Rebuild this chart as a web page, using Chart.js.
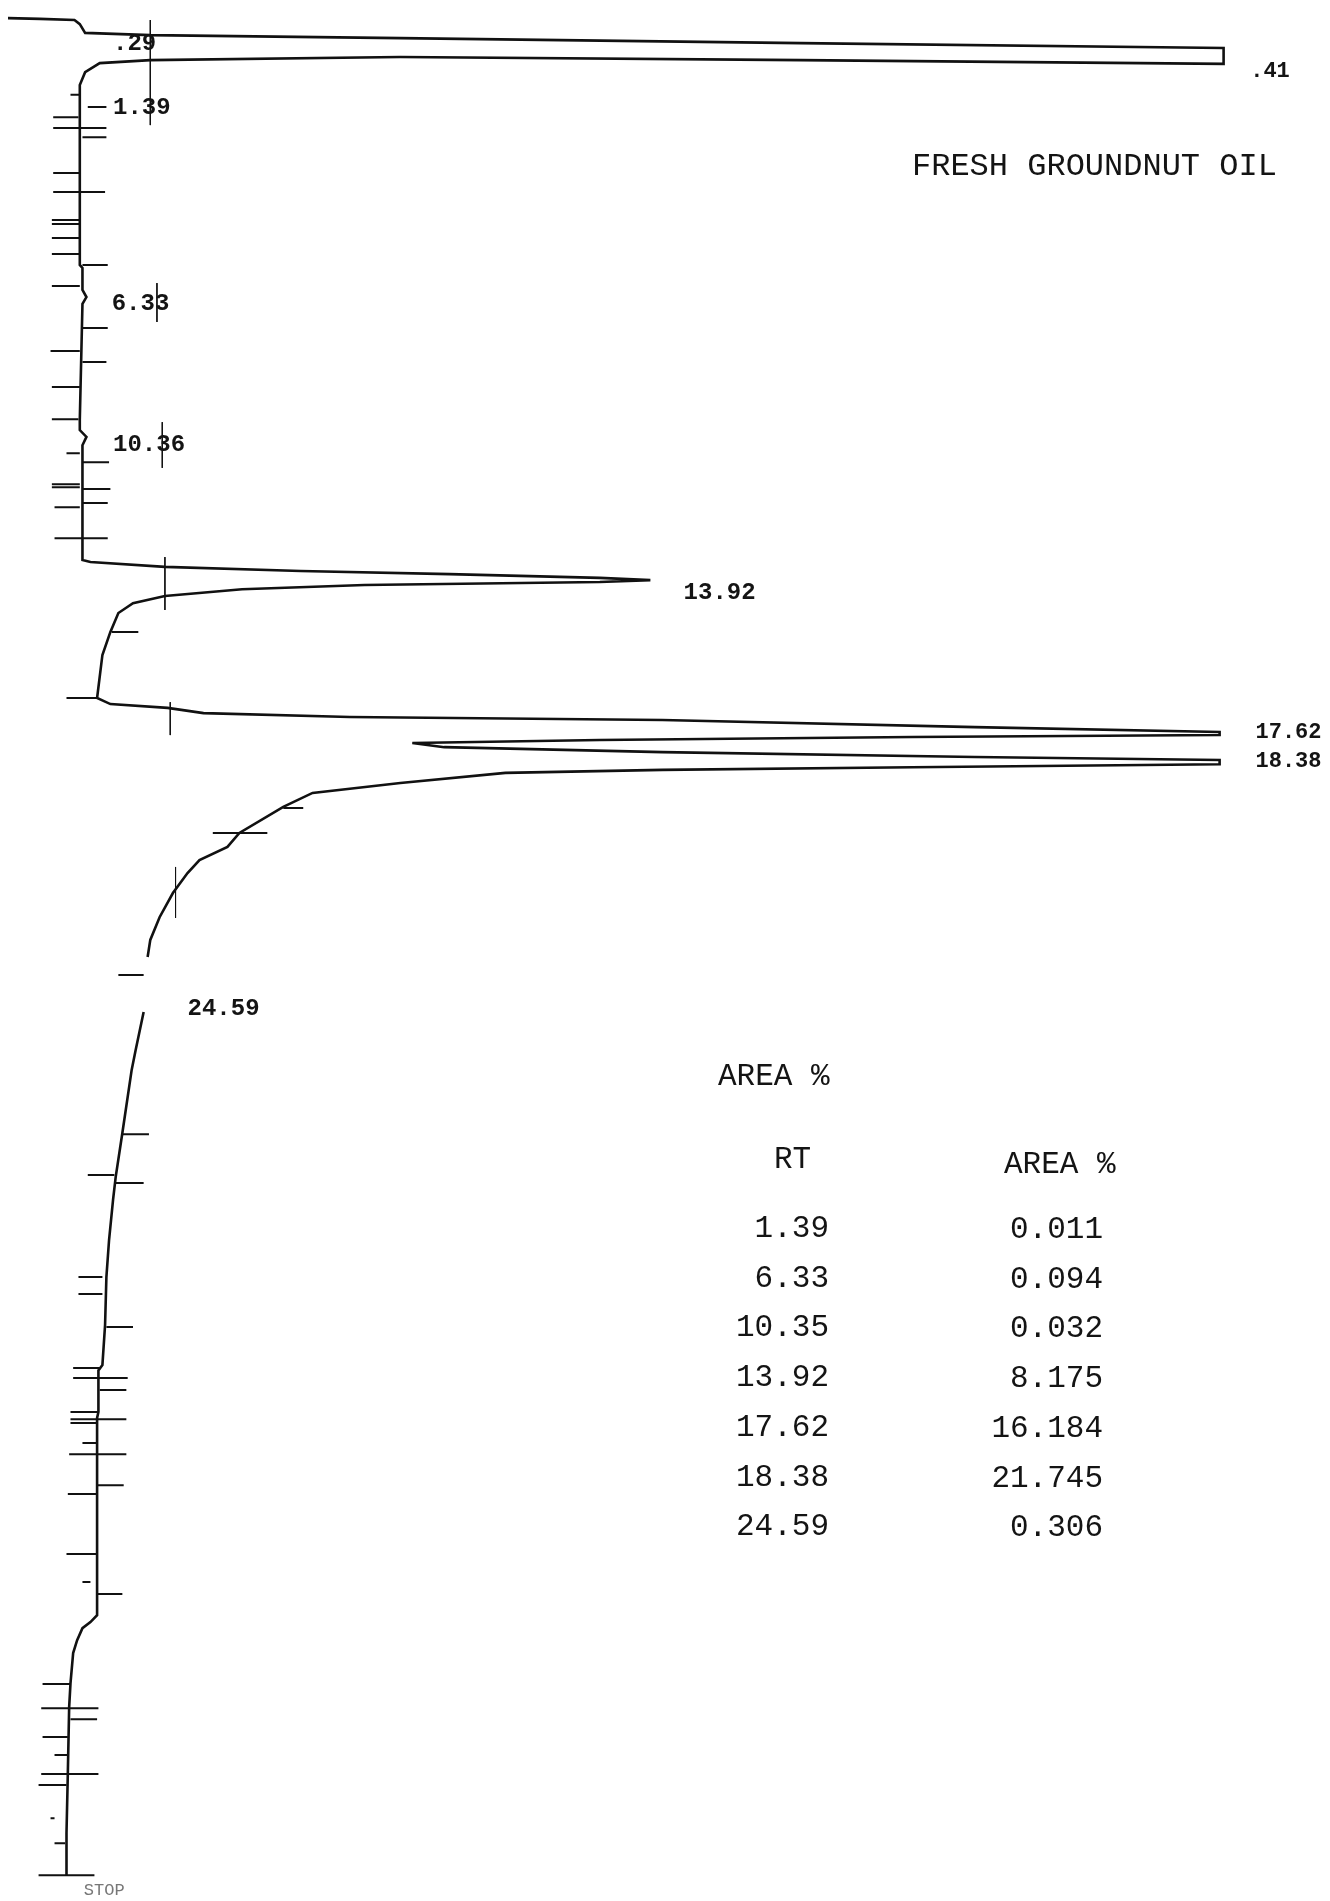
<!DOCTYPE html>
<html>
<head>
<meta charset="utf-8">
<script src="https://cdn.jsdelivr.net/npm/chart.js@4.4.1/dist/chart.umd.min.js"></script>
<style>
  html, body { margin: 0; padding: 0; background: #fff; }
  #wrap { position: relative; width: 1330px; height: 1901px; overflow: hidden; }
  #chart { position: absolute; left: 0; top: 0; }
  .txt { position: absolute; font-family: "Liberation Mono", "DejaVu Sans Mono", monospace; color: #141414; line-height: 1; white-space: pre; }
  .peak { font-size: 24px; font-weight: bold; }
  .title { font-size: 32px; left: 912px; top: 151px; }
  .tbl { font-size: 31px; }
</style>
</head>
<body>
<div id="wrap">
  <canvas id="chart" width="1330" height="1901"></canvas>
</div>
<script>
// retention time (min, downward) and pen signal (% of chart width)
const traceTime = [-1.02, -1.0, -0.97, -0.86, -0.63, -0.57, -0.49, -0.36, -0.23, 0.19, 0.09, 0.01, 0.09, 0.17, 0.41, 0.75, 1.01,
  5.51, 5.59, 6.17, 6.36, 6.54, 9.61, 9.88, 10.06, 10.28, 13.32,
  13.37, 13.50, 13.61, 13.69, 13.79, 13.85, 13.90, 13.98, 14.09, 14.27, 14.46, 14.72, 15.22, 15.83, 16.97,
  17.13, 17.23, 17.37, 17.47, 17.55, 17.74, 17.87, 17.95, 18.00, 18.08, 18.16,
  18.27, 18.40, 18.53, 18.61, 18.72, 18.80, 18.87, 18.95, 19.22, 19.48, 19.85, 20.54, 20.91, 21.26, 21.60, 22.13, 22.77, 23.37, 23.82];
const traceSignal = [0.6, 3.0, 5.6, 6.0, 6.4, 11.3, 30.1, 60.2, 92.0, 92.0, 60.2, 30.1, 11.3, 7.5, 6.4, 6.0, 6.0,
  6.0, 6.2, 6.2, 6.5, 6.2, 6.0, 6.0, 6.5, 6.2, 6.2,
  6.8, 12.4, 22.6, 33.8, 45.1, 48.9, 45.1, 27.4, 18.2, 12.4, 10.0, 8.9, 8.3, 7.7, 7.3,
  8.3, 12.6, 15.3, 26.3, 49.8, 73.3, 91.7, 91.7, 68.6, 45.1, 31.0,
  33.4, 49.8, 73.3, 91.7, 91.7, 68.6, 49.8, 38.0, 30.1, 23.5, 21.3, 18.0, 17.1, 15.0, 14.1, 13.0, 12.0, 11.3, 11.1];

const tailTime = [25.28, 26.28, 26.81, 28.48, 29.64, 30.25, 31.31, 32.29, 33.56, 34.62, 34.76, 35.86, 36.02, 38.11, 40.68,
  41.24, 41.42, 41.58, 41.90, 42.24, 43.04, 43.67, 45.42, 47.00, 48.12];
const tailSignal = [10.8, 10.2, 9.9, 9.2, 8.7, 8.5, 8.2, 8.0, 7.9, 7.7, 7.4, 7.4, 7.3, 7.3, 7.3,
  7.3, 6.8, 6.2, 5.8, 5.5, 5.3, 5.2, 5.1, 5.0, 5.0];

// integrator event marks
const tickTime = [1.01, 1.33, 1.60, 1.89, 2.13, 3.08, 3.58, 4.32, 4.43, 4.80, 5.22, 5.51, 6.07, 7.18, 7.79, 8.08, 8.74, 9.59,
  10.49, 10.73, 11.31, 11.39, 11.44, 11.81, 11.92, 12.74, 15.22, 16.97, 19.88, 20.54, 24.30, 28.51, 29.59, 29.80,
  32.29, 32.74, 33.61, 34.70, 34.96, 35.28, 35.86, 36.05, 36.15, 36.68, 36.98, 37.80, 38.03, 39.62, 40.36, 40.68,
  43.06, 43.70, 43.99, 44.46, 44.94, 45.44, 45.73, 46.61, 47.27, 48.12];
const tickFrom = [5.3, 6.6, 4.0, 4.0, 6.2, 4.0, 4.0, 3.9, 3.9, 3.9, 3.9, 6.2, 3.9, 6.2, 3.8, 6.2, 3.9, 3.9,
  5.0, 6.2, 3.9, 3.9, 6.2, 6.2, 4.1, 4.1, 8.4, 5.0, 21.3, 16.0, 8.9, 9.2, 6.6, 8.6,
  5.9, 5.9, 8.0, 5.5, 5.5, 7.5, 5.3, 5.3, 5.3, 6.2, 5.2, 7.3, 5.1, 5.0, 6.2, 7.3,
  3.2, 3.1, 5.3, 3.2, 4.1, 3.1, 2.9, 3.8, 4.1, 2.9];
const tickTo = [6.0, 8.0, 5.9, 8.0, 8.0, 6.0, 7.9, 6.0, 6.0, 6.0, 6.0, 8.1, 6.0, 8.1, 6.0, 8.0, 6.0, 5.9,
  6.0, 8.2, 6.0, 6.0, 8.3, 8.1, 6.0, 8.1, 10.4, 7.3, 22.8, 20.1, 10.8, 11.2, 8.6, 10.8,
  7.7, 7.7, 10.0, 7.5, 9.6, 9.5, 7.4, 9.5, 7.3, 7.3, 9.5, 9.3, 7.3, 7.3, 6.8, 9.2,
  5.3, 7.4, 7.3, 5.1, 5.1, 7.4, 5.0, 4.1, 4.9, 7.1];

// retention time markers
const rtMarkSignal = [11.3, 11.8, 12.2, 12.4, 12.8, 13.2];
const rtMarkFrom = [-0.97, 5.99, 9.67, 13.24, 17.08, 21.44];
const rtMarkTo = [1.81, 7.02, 10.88, 14.64, 17.95, 22.79];

const peakText = ['.29', '.41', '1.39', '6.33', '10.36', '13.92', '17.62', '18.38', '24.59'];
const peakTime = [-0.36, 0.41, 1.33, 6.52, 10.25, 14.17, 17.90, 18.66, 25.17];
const peakSignal = [8.5, 94.0, 8.5, 8.4, 8.5, 51.4, 94.4, 94.4, 14.1];

const tableRT = ['1.39', '6.33', '10.35', '13.92', '17.62', '18.38', '24.59'];
const tableArea = ['0.011', '0.094', '0.032', '8.175', '16.184', '21.745', '0.306'];

function toPoints(times, signals) {
  return times.map((t, i) => ({ x: signals[i], y: t }));
}

function segments(times, from, to) {
  const pts = [];
  times.forEach((t, i) => {
    pts.push({ x: from[i], y: t }, { x: to[i], y: t }, { x: NaN, y: NaN });
  });
  return pts;
}

function verticals(signals, from, to) {
  const pts = [];
  signals.forEach((s, i) => {
    pts.push({ x: s, y: from[i] }, { x: s, y: to[i] }, { x: NaN, y: NaN });
  });
  return pts;
}

const lineStyle = { showLine: true, pointRadius: 0, tension: 0, spanGaps: false, borderColor: '#111', fill: false, clip: false };

const chart = new Chart(document.getElementById('chart').getContext('2d'), {
  type: 'scatter',
  data: {
    datasets: [
      Object.assign({ data: toPoints(traceTime, traceSignal), borderWidth: 2.6 }, lineStyle),
      Object.assign({ data: toPoints(tailTime, tailSignal), borderWidth: 2.6 }, lineStyle),
      Object.assign({ data: segments(tickTime, tickFrom, tickTo), borderWidth: 2 }, lineStyle),
      Object.assign({ data: verticals(rtMarkSignal, rtMarkFrom, rtMarkTo), borderWidth: 1 }, lineStyle)
    ]
  },
  options: {
    responsive: false,
    animation: false,
    events: [],
    layout: { padding: 0 },
    plugins: { legend: { display: false }, tooltip: { enabled: false } },
    scales: {
      x: { type: 'linear', min: 0, max: 100, display: false },
      y: { type: 'linear', min: -1.5, max: 48.8, reverse: true, display: false }
    }
  }
});

const wrap = document.getElementById('wrap');

function addText(cls, text, left, top, extra) {
  const d = document.createElement('div');
  d.className = 'txt ' + cls;
  d.textContent = text;
  d.style.left = left + 'px';
  d.style.top = top + 'px';
  if (extra) Object.assign(d.style, extra);
  wrap.appendChild(d);
  return d;
}

// peak labels placed through the chart scales
peakText.forEach((txt, i) => {
  const px = chart.scales.x.getPixelForValue(peakSignal[i]);
  const py = chart.scales.y.getPixelForValue(peakTime[i]);
  const small = txt === '.41' || txt === '17.62' || txt === '18.38';
  addText('peak', txt, px, py - 11, small ? { fontSize: '22px' } : null);
});

addText('peak', 'STOP', chart.scales.x.getPixelForValue(6.3), chart.scales.y.getPixelForValue(48.3),
  { fontSize: '17px', color: '#777', fontWeight: 'normal' });

addText('title', 'FRESH GROUNDNUT OIL', 912, 151);

// area % report
addText('tbl', 'AREA %', 718, 1061);
addText('tbl', 'RT', 774, 1144);
addText('tbl', 'AREA %', 1004, 1149);
tableRT.forEach((rt, i) => {
  const top = 1213 + i * 49.7;
  addText('tbl', rt, 0, top, { left: 'auto', right: (1330 - 829) + 'px' });
  addText('tbl', tableArea[i], 0, top + 1, { left: 'auto', right: (1330 - 1103) + 'px' });
});
</script>
</body>
</html>
